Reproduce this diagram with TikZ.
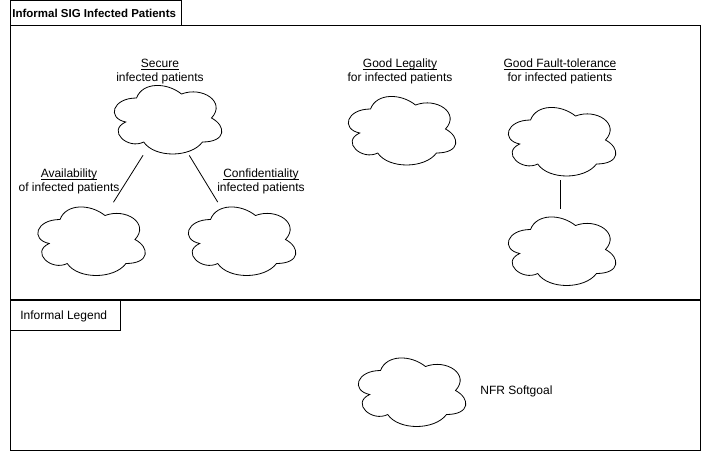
\documentclass[tikz,border=0pt]{standalone}
\usepackage{fontspec}
\setmainfont{Liberation Sans}
\usetikzlibrary{shapes.geometric}

\begin{document}
\begin{tikzpicture}[x=1pt, y=-1pt, font=\fontsize{12}{14}\selectfont, line width=.8pt]

      \useasboundingbox (0,0) rectangle (701,452);

      % frames
      \draw (10,25) rectangle (700,299.5);
      \draw (10,0.5) rectangle (181,25);
      \draw (10,300) rectangle (700,450);
      \draw (10,300) rectangle (120,330);

      \node[anchor=west, font=\fontsize{11.5}{14}\selectfont\bfseries, inner sep=0pt] (sigtitle) at (12,13) {Informal SIG Infected Patients};
      \node[anchor=west, inner sep=0pt] (legendtitle) at (20,316) {Informal Legend};

      \begin{scope}[every node/.style={ellipse, minimum width=120pt, minimum height=80pt, inner sep=0pt}]
        \node (secure)   at (166.5,118)   {};
        \node (avail)    at (90,239.5)    {};
        \node (confid)   at (240.5,239.5) {};
        \node (legal)    at (400.5,129)   {};
        \node (fault)    at (560.5,140)   {};
        \node (faultsub) at (560.5,249.5) {};
        \node (nfr)      at (410.5,390.5) {};
      \end{scope}

      \foreach \n in {secure,avail,confid,legal,fault,faultsub,nfr}
        \draw[shift={(\n.center)}, x=120pt, y=-80pt]
          (-.25,-.25) .. controls (-.45,-.25) and (-.5,0) .. (-.34,.05)
          .. controls (-.5,.16) and (-.32,.4) .. (-.19,.3)
          .. controls (-.1,.5) and (.2,.5) .. (.3,.3)
          .. controls (.5,.3) and (.5,.1) .. (.375,0)
          .. controls (.5,-.2) and (.3,-.4) .. (.125,-.3)
          .. controls (0,-.45) and (-.2,-.45) .. (-.25,-.25) -- cycle;

      \begin{scope}[every node/.style={align=center, inner sep=0pt}]
        \node (secureLbl) at (160,76)  {\underline{\smash{Secure}}\\infected patients};
        \node (availLbl)  at (69,186)  {\underline{\smash{Availability}}\\of infected patients};
        \node (confidLbl) at (261,186) {\underline{\smash{Confidentiality}}\\infected patients};
        \node (legalLbl)  at (400,76)  {\underline{\smash{Good Legality}}\\for infected patients};
        \node (faultLbl)  at (560,76)  {\underline{\smash{Good Fault-tolerance}}\\for infected patients};
      \end{scope}

      \node[anchor=west, inner sep=0pt] (nfrLbl) at (480,391) {NFR Softgoal};

      \draw (secure) -- (avail);
      \draw (secure) -- (confid);
      \draw (fault) -- (faultsub);

    \end{tikzpicture}
\end{document}
